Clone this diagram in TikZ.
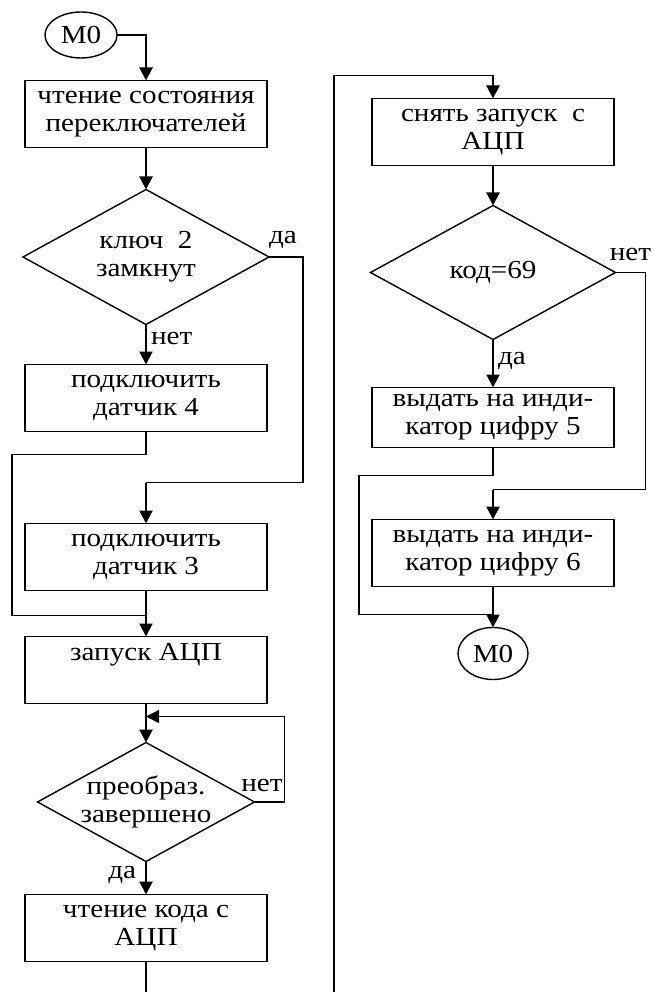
\documentclass[tikz,border=0pt]{standalone}
\usepackage{fontspec}
\setmainfont[FakeStretch=1.12]{Liberation Serif}
\usetikzlibrary{arrows.meta, shapes.geometric, positioning}

\begin{document}
\begin{tikzpicture}[
    x = 1pt, y = 1pt,
    node distance = 40pt,
    every node/.style = {font=\fontsize{26}{28}\selectfont, outer sep=0pt},
    proc/.style = {
        rectangle, draw, line width=1.4pt,
        minimum width=242pt, minimum height=67pt,
        align=center, inner sep=2pt
    },
    decision/.style = {
        diamond, draw, line width=1.4pt, aspect=1.8,
        align=center, inner sep=0pt
    },
    terminal/.style = {
        ellipse, draw, line width=1.4pt,
        minimum width=72pt, minimum height=46pt, inner sep=0pt
    },
    arr/.style = {
        -{Triangle[length=13pt,width=13pt]},
        line width=2.2pt
    },
    wire/.style = {line width=1.4pt},
    lbl/.style = {inner sep=0pt}
]

\useasboundingbox (0,0) rectangle (653,-992);

%% Left column
\node[terminal] (m0a) at (81,-35) {M0};
\node[proc] (read) at (146,-114) {чтение состояния\\переключателей};
\node[decision, minimum width=246pt, minimum height=135pt, below=42pt of read] (key2) {ключ\ \ 2\\замкнут};
\node[proc, below=40pt of key2]     (conn4)    {подключить\\датчик 4};
\node[proc, below=92pt of conn4]    (conn3)    {подключить\\датчик 3};
\node[proc, below=46pt of conn3]    (start)    {запуск АЦП\\\strut};
\node[decision, inner sep=-2pt, minimum width=217pt, minimum height=119pt, below=39pt of start] (done) {преобраз.\\завершено};
\node[proc, below=33pt of done]     (readcode) {чтение кода с\\АЦП};

%% Right column
\node[proc] (stop) at (493,-132) {снять запуск\ \ с\\АЦП};
\node[decision, minimum width=245pt, minimum height=134pt, below=40pt of stop] (code) {код=69};
\node[proc, minimum height=60pt, below=48pt of code] (out5) {выдать на инди-\\катор цифру 5};
\node[proc, below=72pt of out5]     (out6)     {выдать на инди-\\катор цифру 6};
\node[terminal, minimum width=70pt, minimum height=52pt, below=41pt of out6] (m0b) {M0};

%% Junction points
\coordinate (toconn3) at ([yshift=41pt]conn3.north);
\coordinate (tostart) at ([yshift=21pt]start.north);
\coordinate (toloop)  at ([yshift=-13pt]start.south);
\coordinate (cutR)    at (334,-992);
\coordinate (cutL)    at (cutR -| readcode.south);
\coordinate (tostop)  at ([yshift=23pt]stop.north);
\coordinate (toout6)  at ([yshift=30pt]out6.north);
\coordinate (tom0)    at ([yshift=13pt]m0b.north);

%% Arrows — left column
\draw[arr] (m0a.east) -| (read.north);
\draw[arr] (read) -- (key2);
\draw[wire] (key2.east) node[lbl, above right=8pt and 0pt] {да}
    -- ++(34,0) |- (toconn3);
\draw[arr] (toconn3) -- (conn3.north);
\draw[arr] (key2.south) -- (conn4.north)
    node[lbl, pos=0.35, right=5pt] {нет};
\draw[wire] (conn4.south) -- ++(0,-23) -| ([xshift=-134pt]tostart) -- (tostart);
\draw[arr] (conn3) -- (start);
\draw[arr] (start) -- (done.north);
\draw[arr, wire] (done.east) -- ++(30,0)
    node[lbl, above left=10pt and 2pt] {нет} |- (toloop);
\draw[arr] (done.south) -- (readcode.north)
    node[lbl, pos=0.4, left=10pt] {да};
\draw[wire] (readcode.south) -- (cutL);

%% Arrows — right column
\draw[wire] (cutR) |- (tostop);
\draw[arr] (tostop) -- (stop.north);
\draw[arr] (stop) -- (code.north);
\draw[wire] (code.east) -- node[lbl, above=12pt] {нет} ++(30,0) |- (toout6);
\draw[arr] (toout6) -- (out6.north);
\draw[arr] (code.south) -- (out5.north)
    node[lbl, pos=0.45, right=5pt] {да};
\draw[wire] (out5.south) -- ++(0,-28) -| ([xshift=-134pt]tom0) -- (tom0);
\draw[arr] (out6) -- (m0b);

\end{tikzpicture}
\end{document}
